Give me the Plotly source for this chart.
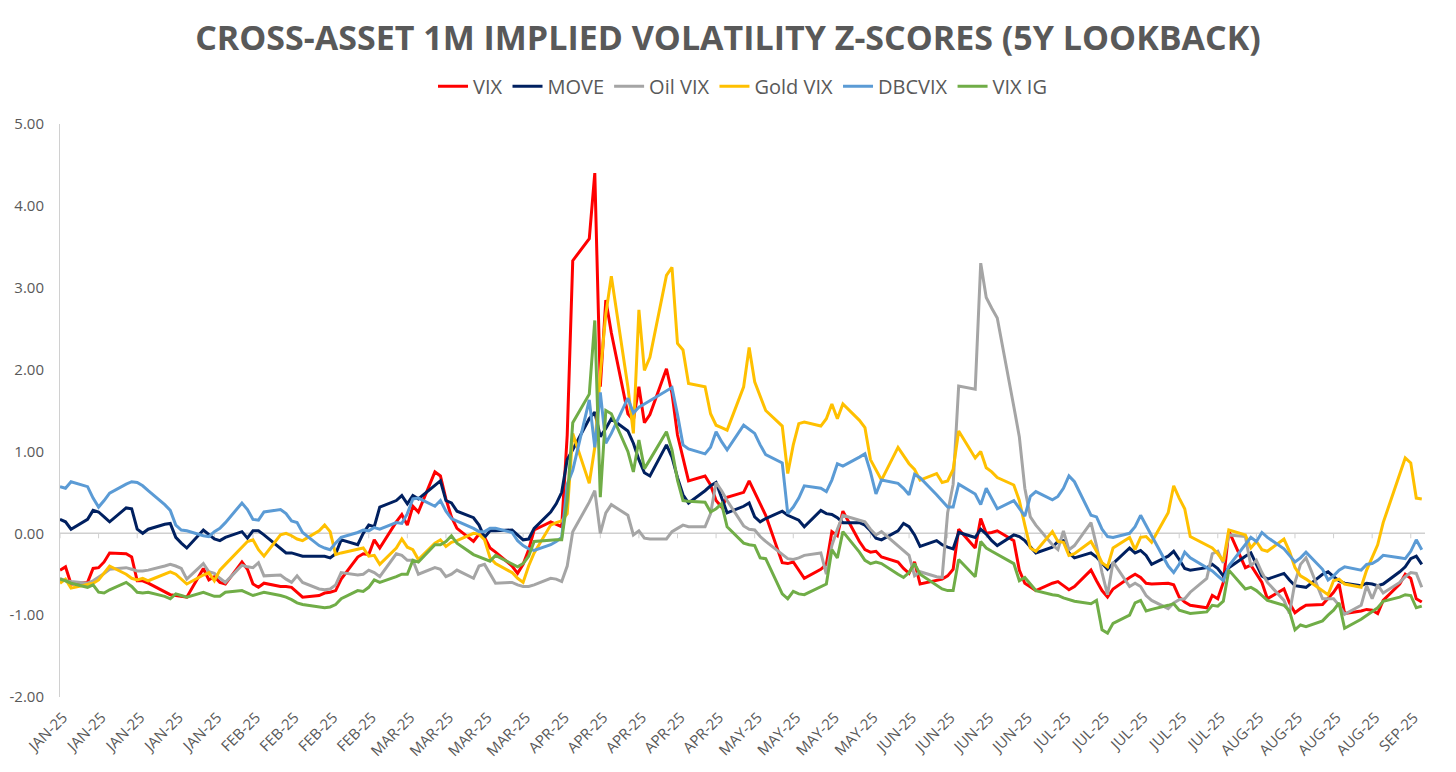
import pandas as pd
import plotly.graph_objects as go

# business days Jan 1 - Sep 5 2025 (178 points)
DATES = pd.bdate_range("2025-01-01", "2025-09-05")

# weekly axis labels (one every 7 days starting Jan 1)
TICK_DATES = pd.date_range("2025-01-01", periods=36, freq="7D")
TICK_LABELS = (["JAN-25"] * 5 + ["FEB-25"] * 4 + ["MAR-25"] * 4 + ["APR-25"] * 5
               + ["MAY-25"] * 4 + ["JUN-25"] * 4 + ["JUL-25"] * 5 + ["AUG-25"] * 4
               + ["SEP-25"])

Y_TICKS = [-2, -1, 0, 1, 2, 3, 4, 5]
Y_TICK_TEXT = ["-2.00", "-1.00", "0.00", "1.00", "2.00", "3.00", "4.00", "5.00"]

VIX = [
    -0.45, -0.41, -0.62,
    -0.60, -0.43, -0.42, -0.35, -0.24,
    -0.25, -0.29, -0.58, -0.58, -0.61,
    -0.72, -0.75, -0.76, -0.77, -0.78,
    -0.43, -0.57, -0.53, -0.60, -0.62,
    -0.35, -0.44, -0.62, -0.66, -0.61,
    -0.65, -0.65, -0.66, -0.72, -0.78,
    -0.76, -0.73, -0.72, -0.70, -0.56,
    -0.29, -0.25, -0.26, -0.08, -0.18,
    0.14, 0.23, 0.10, 0.33, 0.26,
    0.75, 0.70, 0.42, 0.20, 0.06,
    -0.10, -0.01, -0.05, -0.18, -0.23,
    -0.40, -0.49, -0.38, -0.20, 0.04,
    0.14, 0.11, 0.08, 1.20, 3.33,
    3.60, 4.40, 1.79, 2.85, 2.45,
    1.46, 1.38, 1.79, 1.35, 1.45,
    2.01, 1.71, 1.20, 0.93, 0.64,
    0.70, 0.59, 0.40, 0.32, 0.44,
    0.50, 0.64, 0.50, 0.37, 0.22,
    -0.36, -0.37, -0.35, -0.45, -0.55,
    -0.44, -0.38, 0.02, -0.03, 0.27,
    -0.10, -0.20, -0.23, -0.22, -0.29,
    -0.35, -0.43, -0.49, -0.35, -0.62,
    -0.57, -0.56, -0.52, -0.44, 0.05,
    -0.18, 0.18, 0.00, 0.01, 0.03,
    -0.09, -0.45, -0.61, -0.65, -0.70,
    -0.61, -0.59, -0.64, -0.69, -0.65,
    -0.45, -0.58, -0.70, -0.78, -0.68,
    -0.54, -0.50, -0.54, -0.61, -0.62,
    -0.61, -0.63, -0.78, -0.84, -0.88,
    -0.91, -0.76, -0.80, -0.60, 0.03,
    -0.42, -0.39, -0.50, -0.60, -0.80,
    -0.68, -0.85, -0.97, -0.92, -0.88,
    -0.87, -0.80, -0.72, -0.62, -0.98,
    -0.95, -0.93, -0.94, -0.98, -0.82,
    -0.62, -0.50, -0.55, -0.80, -0.84,
]

MOVE = [
    0.17, 0.14, 0.05,
    0.17, 0.28, 0.26, 0.20, 0.14,
    0.31, 0.30, 0.05, 0.00, 0.05,
    0.11, 0.12, -0.05, -0.12, -0.18,
    0.04, -0.01, -0.07, -0.09, -0.05,
    0.02, -0.06, 0.03, 0.03, -0.02,
    -0.19, -0.24, -0.24, -0.26, -0.28,
    -0.28, -0.28, -0.30, -0.25, -0.08,
    -0.14, 0.00, 0.10, 0.08, 0.32,
    0.40, 0.46, 0.36, 0.46, 0.42,
    0.58, 0.64, 0.40, 0.37, 0.27,
    0.19, 0.10, -0.05, 0.03, 0.03,
    0.04, -0.02, -0.08, -0.07, 0.06,
    0.26, 0.36, 0.50, 0.90, 1.02,
    1.40, 1.48, 1.18, 1.28, 1.40,
    1.25, 1.10, 0.90, 0.74, 0.70,
    1.08, 0.93, 0.68, 0.47, 0.37,
    0.52, 0.58, 0.62, 0.43, 0.25,
    0.33, 0.37, 0.20, 0.14, 0.18,
    0.27, 0.22, 0.19, 0.16, 0.08,
    0.28, 0.24, 0.23, 0.19, 0.13,
    0.13, 0.10, 0.03, -0.06, -0.08,
    0.03, 0.12, 0.08, -0.02, -0.16,
    -0.09, -0.14, -0.17, -0.19, 0.01,
    -0.05, 0.05, -0.01, -0.09, -0.15,
    -0.02, -0.04, -0.09, -0.17, -0.24,
    -0.17, -0.10, -0.09, -0.24, -0.30,
    -0.24, -0.29, -0.37, -0.44, -0.37,
    -0.18, -0.24, -0.21, -0.27, -0.38,
    -0.28, -0.22, -0.32, -0.43, -0.45,
    -0.42, -0.38, -0.43, -0.52, -0.42,
    -0.28, -0.24, -0.38, -0.52, -0.56,
    -0.49, -0.57, -0.64, -0.65, -0.66,
    -0.50, -0.47, -0.53, -0.58, -0.61,
    -0.64, -0.61, -0.62, -0.64, -0.62,
    -0.47, -0.41, -0.31, -0.28, -0.38,
]

OIL_VIX = [
    -0.55, -0.58, -0.59,
    -0.61, -0.58, -0.54, -0.49, -0.44,
    -0.42, -0.44, -0.46, -0.46, -0.45,
    -0.40, -0.38, -0.40, -0.43, -0.56,
    -0.37, -0.47, -0.49, -0.55, -0.60,
    -0.39, -0.41, -0.42, -0.36, -0.52,
    -0.51, -0.56, -0.60, -0.52, -0.60,
    -0.68, -0.69, -0.68, -0.63, -0.48,
    -0.51, -0.50, -0.45, -0.48, -0.53,
    -0.25, -0.27, -0.33, -0.33, -0.50,
    -0.42, -0.44, -0.53, -0.50, -0.45,
    -0.55, -0.40, -0.38, -0.49, -0.61,
    -0.60, -0.63, -0.65, -0.65, -0.63,
    -0.55, -0.56, -0.59, -0.40, 0.02,
    0.38, 0.52, 0.00, 0.25, 0.35,
    0.22, -0.02, 0.03, -0.06, -0.07,
    -0.07, 0.02, 0.06, 0.10, 0.08,
    0.08, 0.24, 0.62, 0.52, 0.40,
    0.09, 0.05, 0.04, -0.04, -0.10,
    -0.26, -0.31, -0.32, -0.30, -0.27,
    -0.24, -0.50, -0.15, 0.05, 0.22,
    0.16, 0.14, 0.05, -0.02, 0.02,
    -0.16, -0.22, -0.27, -0.52, -0.47,
    -0.53, -0.54, 0.25, 0.60, 1.80,
    1.76, 3.30, 2.88, 2.75, 2.63,
    1.55, 1.18, 0.55, 0.20, 0.10,
    -0.14, -0.20, 0.03, -0.20, -0.15,
    0.13, -0.15, -0.48, -0.75, -0.35,
    -0.65, -0.61, -0.65, -0.76, -0.82,
    -0.92, -0.85, -0.81, -0.80, -0.72,
    -0.55, -0.25, -0.22, -0.36, -0.02,
    -0.04, -0.40, -0.33, -0.48, -0.60,
    -0.82, -0.98, -0.60, -0.38, -0.30,
    -0.80, -0.80, -0.80, -0.88, -0.99,
    -0.88, -0.64, -0.80, -0.63, -0.73,
    -0.60, -0.53, -0.48, -0.49, -0.66,
]

GOLD_VIX = [
    -0.61, -0.56, -0.67,
    -0.63, -0.61, -0.57, -0.48, -0.40,
    -0.50, -0.55, -0.57, -0.55, -0.58,
    -0.49, -0.47, -0.50, -0.56, -0.62,
    -0.51, -0.48, -0.58, -0.45, -0.38,
    -0.16, -0.10, -0.08, -0.20, -0.28,
    -0.02, 0.00, -0.03, -0.07, -0.09,
    0.03, 0.10, 0.02, -0.26, -0.24,
    -0.19, -0.18, -0.28, -0.27, -0.38,
    -0.18, -0.07, -0.17, -0.20, -0.32,
    -0.12, -0.08, -0.16, -0.11, -0.09,
    0.00, -0.01, -0.08, -0.30, -0.37,
    -0.48, -0.55, -0.60, -0.40, -0.24,
    0.10, 0.13, 0.15, 0.24, 1.22,
    0.61, 1.05, 1.95, 2.68, 3.14,
    1.79, 1.22, 2.73, 1.99, 2.15,
    3.15, 3.25, 2.32, 2.24, 1.83,
    1.79, 1.46, 1.32, 1.29, 1.26,
    1.79, 2.27, 1.85, 1.67, 1.50,
    1.31, 0.73, 1.08, 1.34, 1.36,
    1.31, 1.40, 1.58, 1.40, 1.58,
    1.38, 1.29, 0.90, 0.78, 0.65,
    1.05, 0.95, 0.85, 0.78, 0.65,
    0.73, 0.62, 0.64, 0.78, 1.25,
    0.92, 1.00, 0.80, 0.75, 0.68,
    0.59, 0.40, 0.10, -0.18, -0.22,
    0.02, -0.10, -0.11, -0.27, -0.25,
    -0.10, -0.22, -0.36, -0.41, -0.18,
    -0.05, -0.20, -0.05, -0.04, -0.11,
    0.25, 0.58, 0.43, 0.30, -0.04,
    -0.14, -0.18, -0.25, -0.34, 0.04,
    -0.02, -0.18, -0.10, -0.20, -0.22,
    -0.07, -0.22, -0.42, -0.52, -0.56,
    -0.70, -0.75, -0.58, -0.56, -0.62,
    -0.66, -0.45, -0.30, -0.14, 0.13,
    0.72, 0.92, 0.86, 0.43, 0.42,
]

DBCVIX = [
    0.57, 0.55, 0.63,
    0.57, 0.43, 0.32, 0.40, 0.49,
    0.60, 0.63, 0.62, 0.58, 0.52,
    0.35, 0.28, 0.10, 0.04, 0.03,
    -0.03, -0.04, 0.02, 0.06, 0.13,
    0.37, 0.29, 0.17, 0.16, 0.26,
    0.29, 0.24, 0.15, 0.13, 0.01,
    -0.15, -0.18, -0.20, -0.12, -0.05,
    0.01, 0.04, 0.03, 0.07, 0.05,
    0.13, 0.12, 0.24, 0.42, 0.43,
    0.33, 0.40, 0.27, 0.18, 0.15,
    0.06, 0.02, 0.02, 0.06, 0.06,
    0.01, -0.09, -0.15, -0.19, -0.21,
    -0.14, -0.10, -0.05, 0.60, 0.77,
    1.63, 1.05, 1.72, 1.10, 1.22,
    1.65, 1.47, 1.54, 1.58, 1.62,
    1.75, 1.78, 1.45, 1.08, 1.03,
    0.97, 1.05, 1.24, 1.12, 1.02,
    1.32, 1.27, 1.22, 1.08, 0.96,
    0.86, 0.24, 0.32, 0.43, 0.58,
    0.55, 0.51, 0.65, 0.85, 0.82,
    0.93, 0.97, 0.75, 0.48, 0.65,
    0.61, 0.55, 0.47, 0.72, 0.68,
    0.47, 0.39, 0.32, 0.32, 0.60,
    0.48, 0.35, 0.55, 0.42, 0.30,
    0.40, 0.31, 0.21, 0.45, 0.51,
    0.41, 0.45, 0.55, 0.70, 0.63,
    0.22, 0.20, 0.05, -0.04, -0.05,
    0.00, 0.08, 0.22, 0.10, -0.03,
    -0.40, -0.48, -0.38, -0.23, -0.30,
    -0.42, -0.46, -0.52, -0.58, -0.40,
    -0.13, -0.05, -0.10, 0.01, -0.05,
    -0.19, -0.27, -0.35, -0.30, -0.23,
    -0.44, -0.57, -0.52, -0.45, -0.41,
    -0.45, -0.38, -0.37, -0.33, -0.27,
    -0.30, -0.31, -0.22, -0.08, -0.20,
]

VIX_IG = [
    -0.56, -0.58, -0.61,
    -0.66, -0.63, -0.72, -0.73, -0.69,
    -0.60, -0.65, -0.72, -0.73, -0.72,
    -0.77, -0.80, -0.74, -0.76, -0.78,
    -0.72, -0.75, -0.77, -0.77, -0.72,
    -0.70, -0.73, -0.76, -0.74, -0.72,
    -0.76, -0.78, -0.81, -0.85, -0.87,
    -0.90, -0.91, -0.90, -0.87, -0.80,
    -0.70, -0.71, -0.66, -0.57, -0.60,
    -0.53, -0.50, -0.50, -0.33, -0.35,
    -0.14, -0.14, -0.10, -0.03, -0.12,
    -0.26, -0.29, -0.31, -0.34, -0.27,
    -0.38, -0.41, -0.37, -0.28, -0.10,
    -0.08, -0.08, -0.08, 0.40, 1.35,
    1.70, 2.60, 0.44, 1.50, 1.46,
    1.00, 0.75, 1.14, 0.79, 0.90,
    1.24, 1.02, 0.65, 0.40, 0.39,
    0.38, 0.26, 0.30, 0.36, 0.08,
    -0.12, -0.14, -0.15, -0.30, -0.31,
    -0.74, -0.80, -0.71, -0.74, -0.75,
    -0.66, -0.62, -0.20, -0.30, 0.02,
    -0.23, -0.33, -0.37, -0.35, -0.37,
    -0.50, -0.54, -0.48, -0.37, -0.50,
    -0.63, -0.68, -0.70, -0.70, -0.32,
    -0.53, -0.10, -0.18, -0.22, -0.26,
    -0.37, -0.58, -0.54, -0.62, -0.70,
    -0.75, -0.76, -0.79, -0.81, -0.83,
    -0.86, -0.82, -1.18, -1.22, -1.10,
    -1.00, -0.85, -0.82, -0.95, -0.93,
    -0.88, -0.86, -0.94, -0.96, -0.98,
    -0.96, -0.88, -0.89, -0.83, -0.45,
    -0.68, -0.66, -0.70, -0.76, -0.82,
    -0.88, -0.95, -1.18, -1.12, -1.14,
    -1.07, -1.00, -0.94, -0.85, -1.16,
    -1.05, -1.00, -0.96, -0.91, -0.83,
    -0.78, -0.75, -0.76, -0.91, -0.89,
]

SERIES = [
    ("VIX", VIX, "#FF0000"),
    ("MOVE", MOVE, "#002060"),
    ("Oil VIX", OIL_VIX, "#A5A5A5"),
    ("Gold VIX", GOLD_VIX, "#FFC000"),
    ("DBCVIX", DBCVIX, "#5B9BD5"),
    ("VIX IG", VIX_IG, "#70AD47"),
]

TEXT_COLOR = "#595959"
AXIS_COLOR = "#D0D0D0"
FONT = "Open Sans"

fig = go.Figure()
for name, values, color in SERIES:
    fig.add_trace(go.Scatter(
        x=DATES,
        y=values,
        mode="lines",
        name=name,
        line=dict(color=color, width=3),
    ))

# the page body adds 8px around the figure, so size it to fit the window
fig.update_layout(
    width=1440,
    height=756,
    margin=dict(l=52, r=23, t=116, b=67),
    paper_bgcolor="white",
    plot_bgcolor="white",
    font=dict(family=FONT, color=TEXT_COLOR),
    title=dict(
        text="CROSS-ASSET 1M IMPLIED VOLATILITY Z-SCORES (5Y LOOKBACK)",
        x=0.5, xanchor="center",
        y=1 - 30 / 756, yref="container", yanchor="middle",
        font=dict(family=FONT, size=34, color=TEXT_COLOR, weight="bold"),
    ),
    legend=dict(
        orientation="h",
        x=0.5, xanchor="center",
        y=1.066, yanchor="middle",
        font=dict(family=FONT, size=20, color=TEXT_COLOR),
        itemwidth=30,
    ),
    showlegend=True,
    hovermode="x unified",
)

fig.update_xaxes(
    type="date",
    range=["2025-01-01", "2025-09-05 14:00"],
    tickmode="array",
    tickvals=TICK_DATES,
    ticktext=TICK_LABELS,
    tickangle=-45,
    tickfont=dict(family=FONT, size=15, color=TEXT_COLOR),
    ticklabelstandoff=8,
    ticklabelshift=3,
    showgrid=False,
    showline=False,
    ticks="",
    zeroline=False,
    automargin=False,
)

fig.update_yaxes(
    range=[-2, 5],
    tickmode="array",
    tickvals=Y_TICKS,
    ticktext=Y_TICK_TEXT,
    tickfont=dict(family=FONT, size=15, color=TEXT_COLOR),
    ticklabelstandoff=12,
    showgrid=False,
    showline=True,
    linecolor=AXIS_COLOR,
    linewidth=1,
    ticks="",
    zeroline=False,
    automargin=False,
)

# horizontal axis line crossing at zero, with small tick marks below it
fig.add_hline(y=0, line=dict(color=AXIS_COLOR, width=1.5), layer="below")
for d in TICK_DATES:
    fig.add_shape(
        type="line", layer="below",
        xref="x", x0=d, x1=d,
        yref="y", ysizemode="pixel", yanchor=0, y0=0, y1=-5,
        line=dict(color=AXIS_COLOR, width=1),
    )

fig.write_html("out.html")
